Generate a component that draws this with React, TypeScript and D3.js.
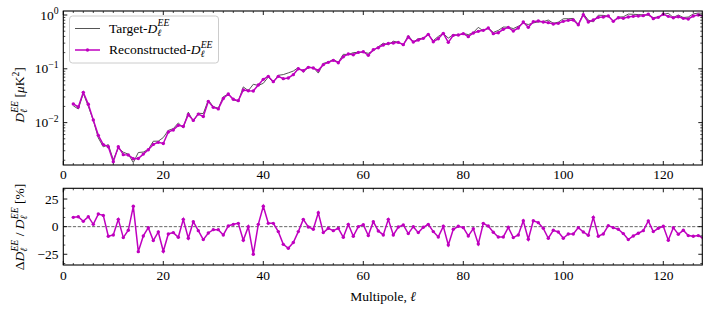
import React from 'react';
import * as d3 from 'd3';

const MULTIPOLES = [
  2, 3, 4, 5, 6, 7, 8, 9, 10, 11, 12, 13, 14, 15, 16, 17, 18, 19, 20, 21,
  22, 23, 24, 25, 26, 27, 28, 29, 30, 31, 32, 33, 34, 35, 36, 37, 38, 39, 40, 41,
  42, 43, 44, 45, 46, 47, 48, 49, 50, 51, 52, 53, 54, 55, 56, 57, 58, 59, 60, 61,
  62, 63, 64, 65, 66, 67, 68, 69, 70, 71, 72, 73, 74, 75, 76, 77, 78, 79, 80, 81,
  82, 83, 84, 85, 86, 87, 88, 89, 90, 91, 92, 93, 94, 95, 96, 97, 98, 99, 100, 101,
  102, 103, 104, 105, 106, 107, 108, 109, 110, 111, 112, 113, 114, 115, 116, 117, 118, 119, 120, 121,
  122, 123, 124, 125, 126, 127, 128,
];

const RECONSTRUCTED = [
  0.0222, 0.0195, 0.0365, 0.0219, 0.0112, 0.0058, 0.0039, 0.00357, 0.00188, 0.00357,
  0.00254, 0.0025, 0.00214, 0.00215, 0.0026, 0.00314, 0.00394, 0.0043, 0.0041, 0.0067,
  0.0073, 0.0089, 0.0085, 0.014, 0.011, 0.0144, 0.013, 0.0248, 0.0192, 0.018,
  0.028, 0.034, 0.0271, 0.0256, 0.0404, 0.0392, 0.0387, 0.05, 0.0637, 0.0724,
  0.0577, 0.0724, 0.0656, 0.0675, 0.0778, 0.1005, 0.0923, 0.1064, 0.1035, 0.0937,
  0.1194, 0.1319, 0.1436, 0.13, 0.168, 0.188, 0.183, 0.202, 0.208, 0.178,
  0.227, 0.247, 0.277, 0.297, 0.302, 0.31, 0.281, 0.39, 0.315, 0.343,
  0.368, 0.437, 0.319, 0.363, 0.456, 0.31, 0.419, 0.425, 0.45, 0.396,
  0.463, 0.497, 0.519, 0.573, 0.45, 0.469, 0.542, 0.59, 0.504, 0.573,
  0.741, 0.59, 0.752, 0.773, 0.74, 0.721, 0.681, 0.7, 0.762, 0.796,
  0.807, 0.661, 1.01, 0.741, 0.807, 0.905, 0.918, 0.958, 0.762, 0.892,
  0.867, 0.918, 0.944, 0.958, 0.972, 1.04, 0.855, 0.905, 1.03, 0.944,
  0.892, 0.931, 0.867, 0.843, 0.958, 1.0, 0.96,
];

const TARGET = [
  0.0205, 0.0179, 0.0348, 0.0201, 0.011, 0.0052, 0.00354, 0.00391, 0.00203, 0.00335,
  0.00282, 0.00259, 0.00181, 0.00278, 0.00284, 0.00317, 0.00451, 0.00452, 0.00528, 0.00717,
  0.00772, 0.00985, 0.00797, 0.01564, 0.01053, 0.01494, 0.01472, 0.0263, 0.01973, 0.0185,
  0.0303, 0.0338, 0.0265, 0.0249, 0.0461, 0.0392, 0.0516, 0.049, 0.0538, 0.0703,
  0.056, 0.0758, 0.0781, 0.084, 0.0909, 0.1052, 0.0866, 0.1067, 0.106, 0.0832,
  0.1262, 0.1339, 0.149, 0.132, 0.186, 0.184, 0.2, 0.202, 0.204, 0.194,
  0.217, 0.257, 0.299, 0.279, 0.326, 0.311, 0.277, 0.416, 0.315, 0.363,
  0.37, 0.428, 0.334, 0.4, 0.455, 0.372, 0.429, 0.424, 0.454, 0.432,
  0.471, 0.59, 0.504, 0.57, 0.474, 0.517, 0.598, 0.594, 0.559, 0.619,
  0.703, 0.666, 0.713, 0.746, 0.751, 0.806, 0.704, 0.735, 0.851, 0.852,
  0.864, 0.667, 1.061, 0.804, 0.744, 0.991, 0.983, 0.949, 0.769, 0.914,
  0.925, 1.04, 1.031, 1.019, 1.008, 0.99, 0.895, 0.919, 1.027, 1.076,
  0.9, 1.0, 0.897, 0.917, 1.049, 1.088, 1.073,
];

const RESIDUAL = [
  8.4, 9.0, 4.8, 9.0, 2.1, 11.4, 10.2, -8.7, -7.5, 6.6,
  -9.9, -3.3, 18.4, -22.6, -8.4, -0.9, -12.6, -4.8, -22.3, -6.6,
  -5.4, -9.6, 6.6, -10.5, 4.5, -3.6, -11.7, -5.7, -2.7, -2.7,
  -7.5, 0.6, 2.1, 3.0, -12.3, 0.0, -25.0, 2.1, 18.4, 3.0,
  3.0, -4.5, -16.0, -19.6, -14.4, -4.5, 6.6, -0.3, -2.4, 12.6,
  -5.4, -1.5, -3.6, -1.5, -9.6, 2.1, -8.7, 0.0, 1.8, -8.1,
  4.5, -3.9, -7.5, 6.6, -7.5, -0.3, 1.5, -6.3, 0.0, -5.4,
  -0.6, 2.1, -4.5, -9.3, 0.3, -16.6, -2.4, 0.3, -0.9, -8.4,
  -1.8, -15.7, 3.0, 0.6, -5.1, -9.3, -9.3, -0.6, -9.9, -7.5,
  5.4, -11.4, 5.4, 3.6, -1.5, -10.5, -3.3, -4.8, -10.5, -6.6,
  -6.6, -0.9, -4.8, -7.8, 8.4, -8.7, -6.6, 0.9, -0.9, -2.4,
  -6.3, -11.7, -8.4, -6.0, -3.6, 5.1, -4.5, -1.5, 0.3, -12.3,
  -0.9, -6.9, -3.3, -8.1, -8.7, -8.1, -10.5,
];

const X_TICKS = [0, 20, 40, 60, 80, 100, 120];
const Y_TOP_TICKS = [0.01, 0.1, 1];
const Y_TOP_TICK_EXP = ['−2', '−1', '0'];
const Y_BOT_TICKS = [-25, 0, 25];
const Y_BOT_TICK_LABELS = ['−25', '0', '25'];

const FONT = "'Liberation Serif', 'Times New Roman', serif";
const MAGENTA = '#bf00bf';
const GRAY = '#555555';

const L = 63.3;
const R = 702.3;
const T1 = 11;
const B1 = 165;
const T2 = 188.3;
const B2 = 265;

const x = d3.scaleLinear().domain([0, 127.8]).range([L, R]);
const yTop = d3.scaleLog().domain([0.00163, 1.187]).range([B1, T1]);
const yBot = d3.scaleLinear().domain([-34.7, 34.7]).range([B2, T2]);

const xMinor = d3.range(0, 128, 2).filter((v) => v % 20 !== 0);
const logMinor: number[] = [];
for (let e = -3; e <= 0; e++) {
  for (let k = 2; k <= 9; k++) {
    const v = k * Math.pow(10, e);
    if (v > 0.00163 && v < 1.187) logMinor.push(v);
  }
}
const botMinor = [-33.333, -16.667, -8.333, 8.333, 16.667, 33.333];

const FS = 13.5;
const SS = FS * 0.72;

// D with subscript ell and superscript EE; `tail` text returns to the baseline
const MathD = ({ tail }: { tail?: string }) => (
  <>
    <tspan fontStyle="italic">D</tspan>
    <tspan fontStyle="italic" fontSize={SS} dy={FS * 0.25}>ℓ</tspan>
    <tspan fontStyle="italic" fontSize={SS} dx={-SS * 0.4} dy={-FS * 0.72}>EE</tspan>
    {tail ? <tspan dy={FS * 0.47}>{tail}</tspan> : null}
  </>
);

function Ticks({ top, bottom, yTicks, yMinor, yScale }: any) {
  const out: any[] = [];
  X_TICKS.forEach((t, i) => {
    const px = x(t);
    out.push(<line key={'xb' + i} x1={px} x2={px} y1={bottom} y2={bottom - 4} stroke="#000" strokeWidth={0.9} />);
    out.push(<line key={'xt' + i} x1={px} x2={px} y1={top} y2={top + 4} stroke="#000" strokeWidth={0.9} />);
  });
  xMinor.forEach((t, i) => {
    const px = x(t);
    out.push(<line key={'xmb' + i} x1={px} x2={px} y1={bottom} y2={bottom - 2} stroke="#000" strokeWidth={0.7} />);
    out.push(<line key={'xmt' + i} x1={px} x2={px} y1={top} y2={top + 2} stroke="#000" strokeWidth={0.7} />);
  });
  yTicks.forEach((t: number, i: number) => {
    const py = yScale(t);
    out.push(<line key={'yl' + i} x1={L} x2={L + 4} y1={py} y2={py} stroke="#000" strokeWidth={0.9} />);
    out.push(<line key={'yr' + i} x1={R} x2={R - 4} y1={py} y2={py} stroke="#000" strokeWidth={0.9} />);
  });
  yMinor.forEach((t: number, i: number) => {
    const py = yScale(t);
    out.push(<line key={'yml' + i} x1={L} x2={L + 2} y1={py} y2={py} stroke="#000" strokeWidth={0.7} />);
    out.push(<line key={'ymr' + i} x1={R} x2={R - 2} y1={py} y2={py} stroke="#000" strokeWidth={0.7} />);
  });
  return <g>{out}</g>;
}

export default function App() {
  const topTarget = d3
    .line<number>()
    .x((_, i) => x(MULTIPOLES[i]))
    .y((d) => yTop(d))(TARGET) as string;
  const topRecon = d3
    .line<number>()
    .x((_, i) => x(MULTIPOLES[i]))
    .y((d) => yTop(d))(RECONSTRUCTED) as string;
  const botRes = d3
    .line<number>()
    .x((_, i) => x(MULTIPOLES[i]))
    .y((d) => yBot(d))(RESIDUAL) as string;

  return (
    <svg
      width={714}
      height={311}
      style={{ position: 'absolute', left: 0, top: 0, background: '#fff' }}
      fontFamily={FONT}
      fontSize={FS}
    >
      <defs>
        <clipPath id="clipTop">
          <rect x={L} y={T1} width={R - L} height={B1 - T1} />
        </clipPath>
        <clipPath id="clipBot">
          <rect x={L} y={T2} width={R - L} height={B2 - T2} />
        </clipPath>
      </defs>
      <rect x={0} y={0} width={714} height={311} fill="#fff" />

      {/* top panel data */}
      <g clipPath="url(#clipTop)">
        <path d={topTarget} fill="none" stroke={GRAY} strokeWidth={1} />
        <path d={topRecon} fill="none" stroke={MAGENTA} strokeWidth={1.5} />
        {RECONSTRUCTED.map((d, i) => (
          <circle key={i} cx={x(MULTIPOLES[i])} cy={yTop(d)} r={1.7} fill={MAGENTA} />
        ))}
      </g>

      {/* bottom panel data */}
      <g clipPath="url(#clipBot)">
        <line x1={L} x2={R} y1={yBot(0)} y2={yBot(0)} stroke={GRAY} strokeWidth={0.9} strokeDasharray="3.2,1.6" />
        <path d={botRes} fill="none" stroke={MAGENTA} strokeWidth={1.5} />
        {RESIDUAL.map((d, i) => (
          <circle key={i} cx={x(MULTIPOLES[i])} cy={yBot(d)} r={1.7} fill={MAGENTA} />
        ))}
      </g>

      <Ticks top={T1} bottom={B1} yTicks={Y_TOP_TICKS} yMinor={logMinor} yScale={yTop} />
      <Ticks top={T2} bottom={B2} yTicks={Y_BOT_TICKS} yMinor={botMinor} yScale={yBot} />

      <rect x={L} y={T1} width={R - L} height={B1 - T1} fill="none" stroke="#000" strokeWidth={1.1} />
      <rect x={L} y={T2} width={R - L} height={B2 - T2} fill="none" stroke="#000" strokeWidth={1.1} />

      {/* x tick labels */}
      {X_TICKS.map((t, i) => (
        <text key={'xl1' + i} x={x(t)} y={B1 + 14} textAnchor="middle">{t}</text>
      ))}
      {X_TICKS.map((t, i) => (
        <text key={'xl2' + i} x={x(t)} y={B2 + 14.5} textAnchor="middle">{t}</text>
      ))}

      {/* y tick labels top */}
      {Y_TOP_TICKS.map((t, i) => (
        <text key={'yl1' + i} x={58.5} y={yTop(t) + 4.5} textAnchor="end">
          10<tspan fontSize={SS} dy={-5.5}>{Y_TOP_TICK_EXP[i]}</tspan>
        </text>
      ))}
      {Y_BOT_TICKS.map((t, i) => (
        <text key={'yl2' + i} x={58.5} y={yBot(t) + 4.5} textAnchor="end">{Y_BOT_TICK_LABELS[i]}</text>
      ))}

      {/* axis labels */}
      <text x={383} y={301} textAnchor="middle">
        Multipole, <tspan fontStyle="italic">ℓ</tspan>
      </text>
      <text transform="translate(24,95) rotate(-90)" textAnchor="middle">
        <MathD tail=" [" />
        <tspan fontStyle="italic">μ</tspan>K<tspan fontSize={SS} dy={-5.5}>2</tspan>
        <tspan dy={5.5}>]</tspan>
      </text>
      <text transform="translate(24,227) rotate(-90)" textAnchor="middle">
        Δ<MathD tail=" / " />
        <MathD tail=" [%]" />
      </text>

      {/* legend */}
      <rect x={69.5} y={16} width={149} height={47} rx={3} ry={3} fill="#fff" fillOpacity={0.85} stroke="#cccccc" strokeWidth={1} />
      <line x1={75} x2={100} y1={28.5} y2={28.5} stroke={GRAY} strokeWidth={1} />
      <text x={109} y={32.5}>
        Target-<MathD />
      </text>
      <line x1={75} x2={100} y1={50} y2={50} stroke={MAGENTA} strokeWidth={1.5} />
      <circle cx={87.5} cy={50} r={1.7} fill={MAGENTA} />
      <text x={109} y={54}>
        Reconstructed-<MathD />
      </text>
    </svg>
  );
}
